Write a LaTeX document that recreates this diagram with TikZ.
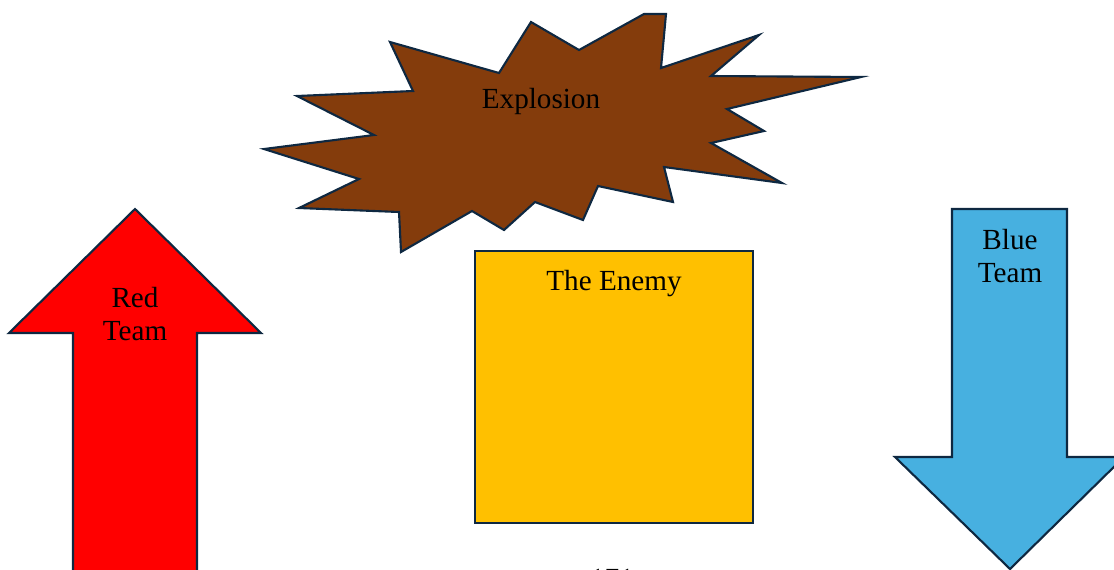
\documentclass[tikz,border=0pt]{standalone}
\usepackage{fontspec}
\setmainfont{Liberation Serif}
\usetikzlibrary{positioning}
\definecolor{outline}{HTML}{0E2841}
\definecolor{boomfill}{HTML}{843C0C}
\definecolor{enemyfill}{HTML}{FFC000}
\definecolor{redfill}{HTML}{FF0000}
\definecolor{bluefill}{HTML}{47B0E0}

\begin{document}
\begin{tikzpicture}[x=0.02cm, y=-0.02cm,
    outlined/.style={draw=outline, line width=1.2pt, line join=miter},
    caption/.style={font=\fontsize{16.6}{18.7}\selectfont, align=center, inner sep=0pt}]

    \useasboundingbox (0,0) rectangle (1114,569);

    % explosion
    \draw[outlined, fill=boomfill] (390,42) -- (499,73) -- (531,22) -- (579,50)
        -- (644,14) -- (666,14) -- (661,68) -- (759,35) -- (711,76) -- (861,77)
        -- (727,109) -- (764,131) -- (711,143) -- (782,183) -- (664,167)
        -- (673,202) -- (598,186) -- (583,220) -- (535,202) -- (504,230)
        -- (472,211) -- (401,252) -- (399,212) -- (299,208) -- (359,179)
        -- (264,149) -- (374,135) -- (297,96) -- (413,91) -- cycle;
    \node[caption] (boom) at (541,101) {Explosion};

    % the enemy
    \draw[outlined, fill=enemyfill] (475,251) rectangle (753,523);
    \node[caption] (enemy) at (614,284) {The Enemy};

    % red team, pointing up
    \draw[outlined, fill=redfill] (135,209) -- (261,333) -- (197,333) -- (197,580)
        -- (73,580) -- (73,333) -- (9,333) -- cycle;
    \node[caption] (red) at (135,314) {Red\\Team};

    % blue team, pointing down
    \draw[outlined, fill=bluefill] (952,209) -- (1067,209) -- (1067,457) -- (1124,457)
        -- (1010,569) -- (895,457) -- (952,457) -- cycle;
    \node[caption] (blue) at (1010,256) {Blue\\Team};

    % page number, cut by the edge
    \node[caption] (page) at (612,579) {171};
\end{tikzpicture}
\end{document}
